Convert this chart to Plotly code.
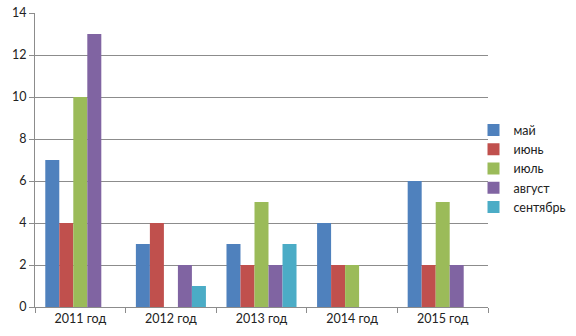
import plotly.graph_objects as go

years = ["2011 год", "2012 год", "2013 год", "2014 год", "2015 год"]
months = ["май", "июнь", "июль", "август", "сентябрь"]
colors = ["#4F81BD", "#C0504D", "#9BBB59", "#8064A2", "#4BACC6"]

may = [7, 3, 3, 4, 6]
june = [4, 4, 2, 2, 2]
july = [10, 0, 5, 2, 5]
august = [13, 2, 2, 0, 2]
september = [0, 1, 3, 0, 0]

series = [may, june, july, august, september]

fig = go.Figure()
for name, vals, col in zip(months, series, colors):
    fig.add_trace(go.Bar(
        x=years, y=vals, name=name,
        marker=dict(color=col, line=dict(width=0)),
    ))

axis_grey = "#8c8c8c"
fig.update_layout(
    width=576, height=336,
    margin=dict(l=35, r=88, t=13, b=29, autoexpand=False),
    paper_bgcolor="white", plot_bgcolor="white",
    barmode="group", bargap=0.227, bargroupgap=0,
    font=dict(family="Lato, Carlito, sans-serif", size=12.5, color="#222"),
    showlegend=True,
    legend=dict(x=0.968, y=0.47, yanchor="middle", xanchor="left",
                font=dict(size=12.5), tracegroupgap=0, itemwidth=30,
                bgcolor="rgba(0,0,0,0)"),
    xaxis=dict(showline=True, linecolor=axis_grey, linewidth=1,
               ticks="outside", tickson="boundaries", ticklen=5,
               tickcolor=axis_grey, showgrid=False),
    yaxis=dict(range=[0, 14], dtick=2, showline=True, linecolor=axis_grey,
               linewidth=1, ticks="outside", ticklen=5, tickcolor=axis_grey,
               showgrid=True, gridcolor=axis_grey, gridwidth=1,
               zeroline=False),
)

fig.write_html("out.html")
